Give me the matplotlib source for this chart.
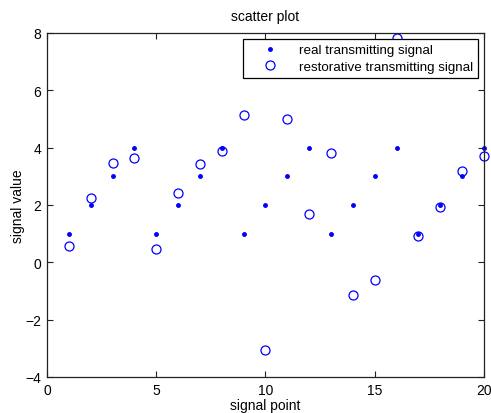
import matplotlib
matplotlib.use("Agg")
import matplotlib.pyplot as plt

x = list(range(1, 21))
real = [1, 2, 3, 4, 1, 2, 3, 4, 1, 2, 3, 4, 1, 2, 3, 4, 1, 2, 3, 4]
restored = [0.58, 2.25, 3.45, 3.65, 0.48, 2.4, 3.43, 3.88, 5.15, -3.05,
            5.0, 1.7, 3.82, -1.15, -0.6, 7.84, 0.92, 1.93, 3.2, 3.7]

plt.rcParams['font.family'] = ['Liberation Sans', 'DejaVu Sans']
fig = plt.figure(figsize=(4.91, 4.14), dpi=100)
ax = fig.add_axes([0.0957, 0.087, 0.89, 0.831])
ax.plot(x, real, '.', color='#0000ff', markersize=5, label='real transmitting signal', clip_on=False)
ax.plot(x, restored, 'o', color='#0000ff', markerfacecolor='none', markersize=6.5,
        markeredgewidth=0.9, label='restorative transmitting signal', clip_on=False)
ax.set_xlim(0, 20)
ax.set_ylim(-4, 8)
ax.set_xticks([0, 5, 10, 15, 20])
ax.set_yticks([-4, -2, 0, 2, 4, 6, 8])
ax.tick_params(direction='in', top=True, right=True, labelsize=10, length=4.5, width=0.8, pad=4,
               colors='#222222', labelcolor='black')
for s in ax.spines.values():
    s.set_linewidth(0.9)
    s.set_color('#222222')
ax.set_title('scatter plot', fontsize=10, pad=9)
ax.set_xlabel('signal point', fontsize=10, labelpad=1)
ax.set_ylabel('signal value', fontsize=10, labelpad=0)
leg = ax.legend(loc='upper right', fontsize=9.6, fancybox=False, framealpha=1,
                edgecolor='black', borderaxespad=0.45, handlelength=3.3, handletextpad=0.5,
                borderpad=0.38, labelspacing=0.32)
leg.get_frame().set_linewidth(0.9)
fig.savefig('out.png', dpi=100)
